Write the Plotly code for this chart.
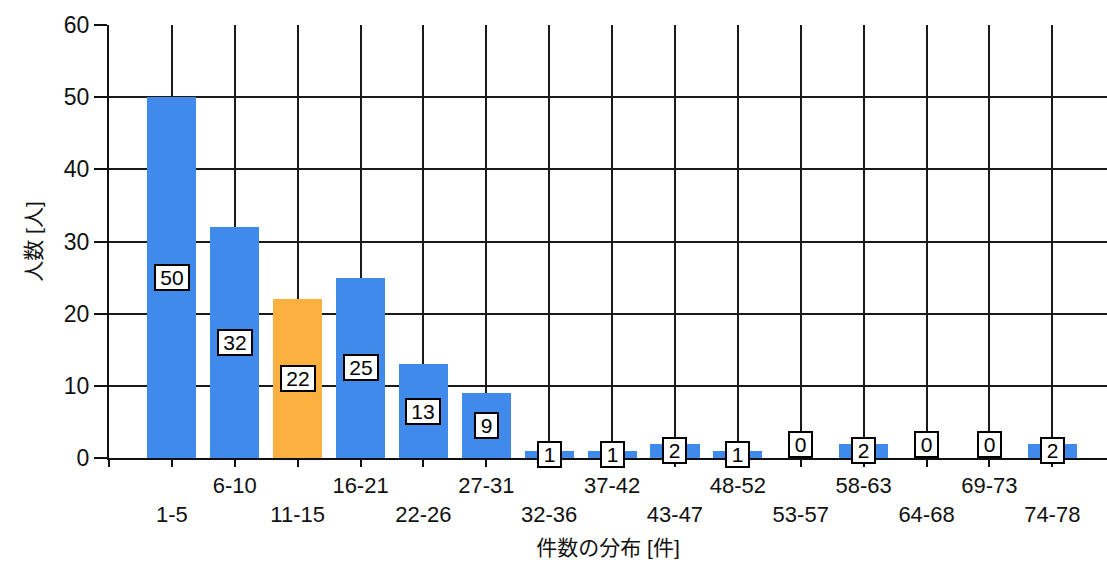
import plotly.graph_objects as go

# 件数の分布 (bins) and 人数 per bin
categories = ["1-5", "6-10", "11-15", "16-21", "22-26", "27-31", "32-36", "37-42",
              "43-47", "48-52", "53-57", "58-63", "64-68", "69-73", "74-78"]
counts = [50, 32, 22, 25, 13, 9, 1, 1, 2, 1, 0, 2, 0, 0, 2]
highlight = "11-15"
y_ticks = [0, 10, 20, 30, 40, 50, 60]

BLUE = "#3F8AEB"
ORANGE = "#FBB040"
FONT = "Liberation Sans, Arial, Noto Sans CJK JP"

positions = list(range(1, len(categories) + 1))
colors = [ORANGE if c == highlight else BLUE for c in categories]

fig = go.Figure()
fig.add_trace(go.Bar(
    x=positions,
    y=counts,
    width=0.78,
    marker=dict(color=colors, line=dict(width=0)),
    hoverinfo="skip",
))

# boxed value labels in the middle of each bar
for xp, v in zip(positions, counts):
    txt = str(v)
    fig.add_annotation(
        x=xp, y=v / 2 if v > 0 else 0,
        xref="x", yref="y",
        text=txt,
        showarrow=False,
        yanchor="middle" if v > 0 else "bottom",
        font=dict(family=FONT, size=21, color="#000"),
        bgcolor="#FFFFFF",
        bordercolor="#000000",
        borderwidth=2,
        borderpad=1,
        width=11 * len(txt) + 8,
        height=21,
    )

# staggered category labels: alternate rows
tick_text = [""] + [c if i % 2 == 1 else "<br>" + c for i, c in enumerate(categories)]

fig.update_layout(
    width=1107, height=564,
    margin=dict(l=109, r=0, t=25, b=106),
    paper_bgcolor="#FFFFFF",
    plot_bgcolor="#FFFFFF",
    showlegend=False,
    bargap=0,
    font=dict(family=FONT, color="#000"),
    xaxis=dict(
        range=[0, 15.87],
        tickmode="array",
        tickvals=[0] + positions,
        ticktext=tick_text,
        tickfont=dict(family=FONT, size=22, color="#111"),
        ticks="outside", ticklen=7, tickwidth=2, tickcolor="#111",
        showgrid=True, gridcolor="#1a1a1a", gridwidth=2,
        showline=True, linecolor="#111", linewidth=2,
        zeroline=False,
        title=dict(text="件数の分布 [件]", font=dict(family=FONT, size=21, color="#111"),
                   standoff=14),
    ),
    yaxis=dict(
        range=[0, 60],
        tickmode="array",
        tickvals=y_ticks,
        tickfont=dict(family=FONT, size=23, color="#111"),
        ticks="outside", ticklen=13, tickwidth=2, tickcolor="#111",
        showgrid=True, gridcolor="#1a1a1a", gridwidth=2,
        showline=True, linecolor="#111", linewidth=2,
        zeroline=False,
        title=dict(text="人数 [人]", font=dict(family=FONT, size=21, color="#111"),
                   standoff=16),
    ),
)

fig.write_html("out.html")
